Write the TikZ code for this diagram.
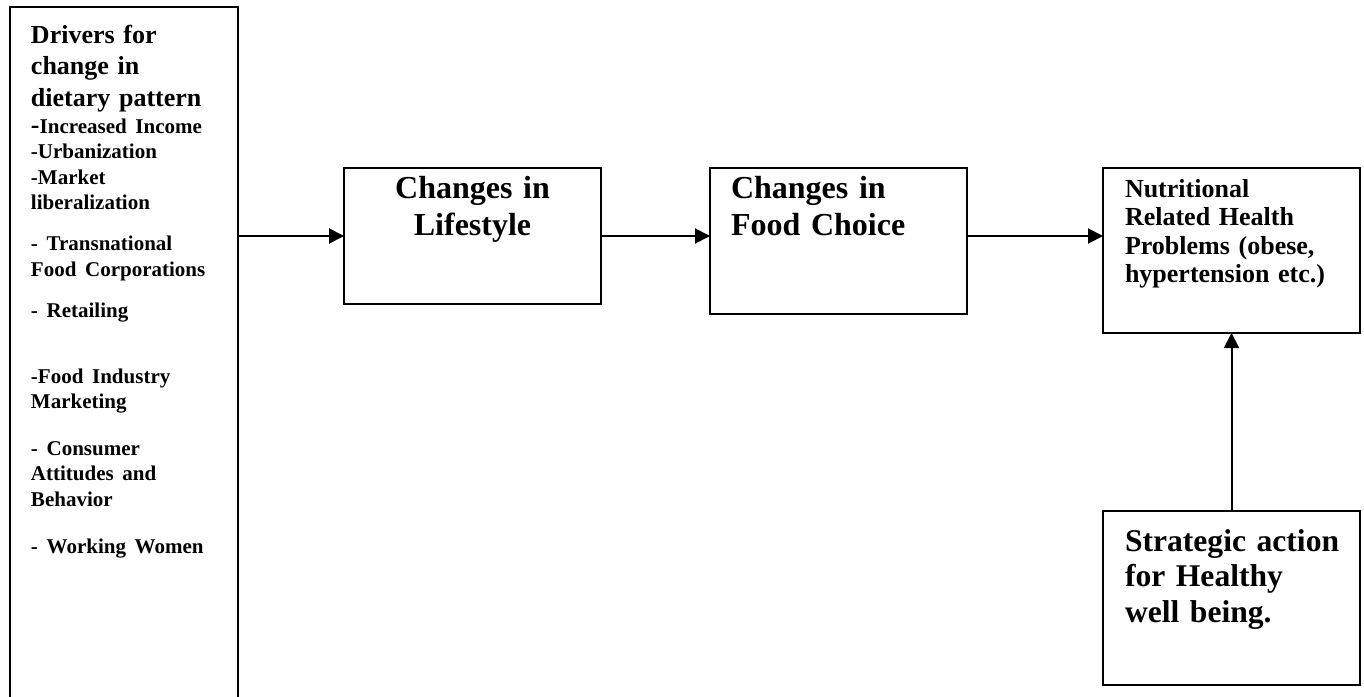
\documentclass[tikz,border=0pt]{standalone}
\usepackage{fontspec}
\setmainfont{Liberation Serif}
\usetikzlibrary{arrows.meta}

\begin{document}
\begin{tikzpicture}[
    x=0.5pt, y=-0.5pt,
    box/.style={rectangle, draw=black, line width=1.2pt, inner ysep=0pt, outer sep=0pt, anchor=north west, align=left},
    arrow/.style={-{Triangle[length=7.5pt, width=7.5pt]}, line width=1pt},
    head/.style={font=\fontsize{13}{15.75}\bfseries\selectfont},
    big/.style={font=\fontsize{16}{18.5}\bfseries\selectfont},
    mid/.style={font=\fontsize{13}{14.25}\bfseries\selectfont}
]
\useasboundingbox (0,0) rectangle (1364,696);

% Drivers (left column)
\node[box, head, inner xsep=10.5pt, text width=93pt, text height=18pt, text depth=328.5pt] (drivers) at (10,7)
    {Drivers for\\ change in\\ dietary pattern\\[0.75pt]
     \fontsize{10.5}{12.75}\selectfont
     {\fontsize{13}{12.75}\selectfont -}Increased Income\\ -Urbanization\\ -Market\\ liberalization\\[7.75pt]
     - Transnational\\ Food Corporations\\[7.75pt]
     - Retailing\\[20.25pt]
     -Food Industry\\ Marketing\\[10.5pt]
     - Consumer\\ Attitudes and\\ Behavior\\[7.75pt]
     - Working Women};

% Chain of changes
\node[box, big, align=center, inner xsep=0pt, text width=128.5pt, text height=15pt, text depth=53pt] (life) at (344,168)
    {Changes in\\ Lifestyle};
\node[box, big, inner xsep=10.5pt, text width=107.5pt, text height=15pt, text depth=58pt] (food) at (710,168)
    {Changes in\\ Food Choice};
\node[box, mid, inner xsep=11pt, text width=106.5pt, text height=14.5pt, text depth=68pt] (nutri) at (1103,168)
    {Nutritional\\ Related Health\\ Problems (obese,\\ hypertension etc.)};

% Action
\node[box, font=\fontsize{15.8}{17.75}\bfseries\selectfont, inner xsep=11pt, text width=106.5pt, text height=20pt, text depth=67pt] (strat) at (1103,511)
    {\mbox{Strategic action}\\ for Healthy\\ well being.};

% Connections
\draw[arrow] (drivers.east |- life.west) -- (life.west);
\draw[arrow] (life.east) -- (life.east -| food.west);
\draw[arrow] (food.east |- life.east) -- (nutri.west |- life.east);
\draw[arrow] (strat.north) -- (nutri.south);

\end{tikzpicture}
\end{document}
